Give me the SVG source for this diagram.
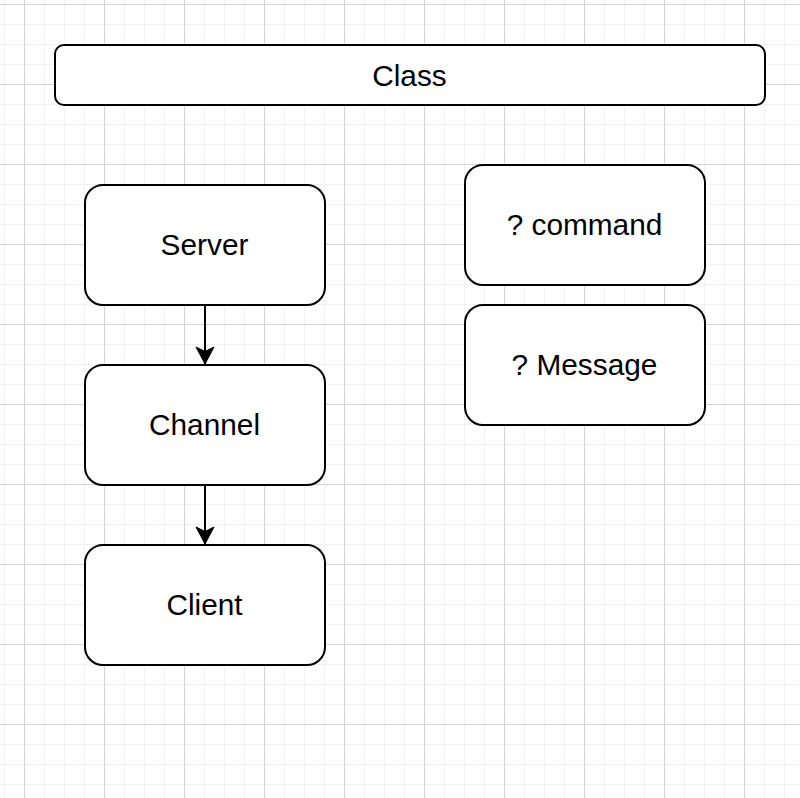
<svg xmlns="http://www.w3.org/2000/svg" width="800" height="798" viewBox="0 0 800 798">
  <defs>
    <pattern id="minor" patternUnits="userSpaceOnUse" x="4" y="4" width="20" height="20">
      <path d="M0.5 0 V20 M0 0.5 H20" fill="none" stroke="#f0f0f0" stroke-width="1"/>
    </pattern>
    <pattern id="major" patternUnits="userSpaceOnUse" x="24" y="4" width="80" height="80">
      <path d="M0.5 0 V80 M0 0.5 H80" fill="none" stroke="#d4d4d4" stroke-width="1"/>
    </pattern>
    <marker id="arrow" markerUnits="userSpaceOnUse" viewBox="0 0 20 20" refX="18" refY="10" markerWidth="20" markerHeight="20" orient="auto">
      <path d="M18 10 L1 1 L5.5 10 L1 19 Z" fill="#000" stroke="#000" stroke-width="1"/>
    </marker>
    <style>
      .box { fill: #ffffff; stroke: #000000; stroke-width: 2; }
      .lbl { font-family: "Liberation Sans", Arial, Helvetica, sans-serif; font-size: 29.8px; fill: #000000; text-anchor: middle; }
      .edge { fill: none; stroke: #000000; stroke-width: 2; }
    </style>
  </defs>
  <rect width="800" height="798" fill="#ffffff"/>
  <rect width="800" height="798" fill="url(#minor)"/>
  <rect width="800" height="798" fill="url(#major)"/>

  <g id="class">
    <rect class="box" x="55" y="45" width="710" height="60" rx="9" ry="9"/>
    <text class="lbl" x="409.5" y="85.8">Class</text>
  </g>
  <g id="server">
    <rect class="box" x="85" y="185" width="240" height="120" rx="18" ry="18"/>
    <text class="lbl" x="204.5" y="254.8">Server</text>
  </g>
  <g id="channel">
    <rect class="box" x="85" y="365" width="240" height="120" rx="18" ry="18"/>
    <text class="lbl" x="204.5" y="434.8">Channel</text>
  </g>
  <g id="client">
    <rect class="box" x="85" y="545" width="240" height="120" rx="18" ry="18"/>
    <text class="lbl" x="204.5" y="614.8">Client</text>
  </g>
  <g id="command">
    <rect class="box" x="465" y="165" width="240" height="120" rx="18" ry="18"/>
    <text class="lbl" x="584.5" y="234.8">? command</text>
  </g>
  <g id="message">
    <rect class="box" x="465" y="305" width="240" height="120" rx="18" ry="18"/>
    <text class="lbl" x="584.5" y="374.8">? Message</text>
  </g>

  <g id="connectors">
    <path class="edge" d="M205 305 V364" marker-end="url(#arrow)"/>
    <path class="edge" d="M205 485 V544" marker-end="url(#arrow)"/>
  </g>
</svg>
